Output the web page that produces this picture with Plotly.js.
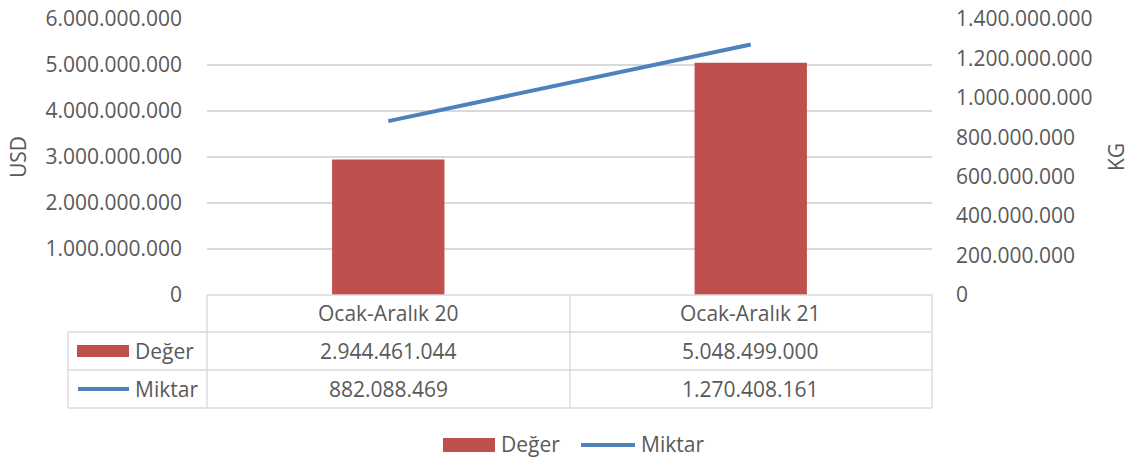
<!DOCTYPE html>
<html>
<head>
<meta charset="utf-8">
<script src="https://cdn.plot.ly/plotly-3.0.1.min.js"></script>
<style>html,body{margin:0;padding:0;background:#fff;}#chart{width:1132px;height:458px;}</style>
</head>
<body>
<div id="chart"></div>
<script>
const categories = ['Ocak-Aralık 20', 'Ocak-Aralık 21'];
const degerValues = [2944461044, 5048499000];
const miktarValues = [882088469, 1270408161];
const seriesNames = ['Değer', 'Miktar'];
const leftTitle = 'USD';
const rightTitle = 'KG';

const W = 1132, H = 458;
const L = 207, R = 932, T = 19, B = 295;
const TXT = '#595959';
const GRID = '#d9d9d9';
const RED = '#c0504d';
const BLUE = '#4f81bd';
const FONT = 'Open Sans, Noto Sans, sans-serif';
const FS = 21;

function px(x){ return (x - L) / (R - L); }
function py(y){ return (B - y) / (B - T); }
function fmt(n){ return String(Math.round(n)).replace(/\B(?=(\d{3})+(?!\d))/g, '.'); }

const traces = [
  {type:'bar', name:seriesNames[0], x:categories, y:degerValues, marker:{color:RED}, width:0.31, yaxis:'y', showlegend:false, hoverinfo:'skip'},
  {type:'scatter', mode:'lines', name:seriesNames[1], x:categories, y:miktarValues, line:{color:BLUE, width:4}, yaxis:'y2', showlegend:false, hoverinfo:'skip'}
];

const shapes = [];
function line(x0,y0,x1,y1,color,width){
  shapes.push({type:'line', xref:'paper', yref:'paper', x0:px(x0), y0:py(y0), x1:px(x1), y1:py(y1), line:{color:color, width:width||1}, layer:'above'});
}
// table borders
const rowY = [295, 332, 370, 408];
line(207, rowY[0], 932, rowY[0], GRID, 1.3);
line(68, rowY[1], 932, rowY[1], GRID, 1.3);
line(68, rowY[2], 932, rowY[2], GRID, 1.3);
line(68, rowY[3], 932, rowY[3], GRID, 1.3);
line(68, rowY[1], 68, rowY[3], GRID, 1.3);
line(207, rowY[0], 207, rowY[3], GRID, 1.3);
line(570, rowY[0], 570, rowY[3], GRID, 1.3);
line(932, rowY[0], 932, rowY[3], GRID, 1.3);
// legend keys in table
shapes.push({type:'rect', xref:'paper', yref:'paper', x0:px(77), x1:px(129), y0:py(345), y1:py(357), fillcolor:RED, line:{width:0}});
line(78, 389, 129, 389, BLUE, 4);
// bottom legend
shapes.push({type:'rect', xref:'paper', yref:'paper', x0:px(443), x1:px(495), y0:py(438), y1:py(452), fillcolor:RED, line:{width:0}});
line(581, 445, 635, 445, BLUE, 4);

const annotations = [];
function ann(text, x, y, opts){
  annotations.push(Object.assign({text:text, xref:'paper', yref:'paper', x:px(x), y:py(y), showarrow:false, font:{family:FONT, size:FS, color:TXT}, xanchor:'center', yanchor:'middle'}, opts||{}));
}
// table headers and values using category scale
categories.forEach((c,i)=>{
  annotations.push({text:c, xref:'x', yref:'paper', x:c, y:py(313), showarrow:false, font:{family:FONT,size:FS,color:TXT}, xanchor:'center', yanchor:'middle'});
  annotations.push({text:fmt(degerValues[i]), xref:'x', yref:'paper', x:c, y:py(351), showarrow:false, font:{family:FONT,size:FS,color:TXT}, xanchor:'center', yanchor:'middle'});
  annotations.push({text:fmt(miktarValues[i]), xref:'x', yref:'paper', x:c, y:py(389), showarrow:false, font:{family:FONT,size:FS,color:TXT}, xanchor:'center', yanchor:'middle'});
});
ann(seriesNames[0], 133, 351, {xanchor:'left'});
ann(seriesNames[1], 133, 389, {xanchor:'left'});
ann(seriesNames[0], 499, 444, {xanchor:'left'});
ann(seriesNames[1], 639, 444, {xanchor:'left'});
ann(leftTitle, 18, 157, {textangle:-90});
ann(rightTitle, 1116, 157, {textangle:-90});

const layout = {
  width:W, height:H,
  margin:{l:L, r:W-R, t:T, b:H-B, pad:0},
  paper_bgcolor:'#ffffff', plot_bgcolor:'#ffffff',
  separators:',.',
  showlegend:false,
  font:{family:FONT, size:FS, color:TXT},
  xaxis:{type:'category', range:[-0.5,1.5], showticklabels:false, showgrid:false, zeroline:false, showline:false, fixedrange:true},
  yaxis:{range:[0,6e9], dtick:1e9, tick0:0, tickformat:',d', showgrid:true, gridcolor:GRID, gridwidth:1.3, zeroline:false, showline:false, ticks:'', ticklabelstandoff:24, tickfont:{family:FONT,size:FS,color:TXT}},
  yaxis2:{range:[0,1.4e9], dtick:2e8, tick0:0, tickformat:',d', overlaying:'y', side:'right', showgrid:false, zeroline:false, showline:false, ticks:'', ticklabelstandoff:23, tickfont:{family:FONT,size:FS,color:TXT}},
  shapes:shapes,
  annotations:annotations
};

Plotly.newPlot('chart', traces, layout, {displayModeBar:false, staticPlot:true});
</script>
</body>
</html>
